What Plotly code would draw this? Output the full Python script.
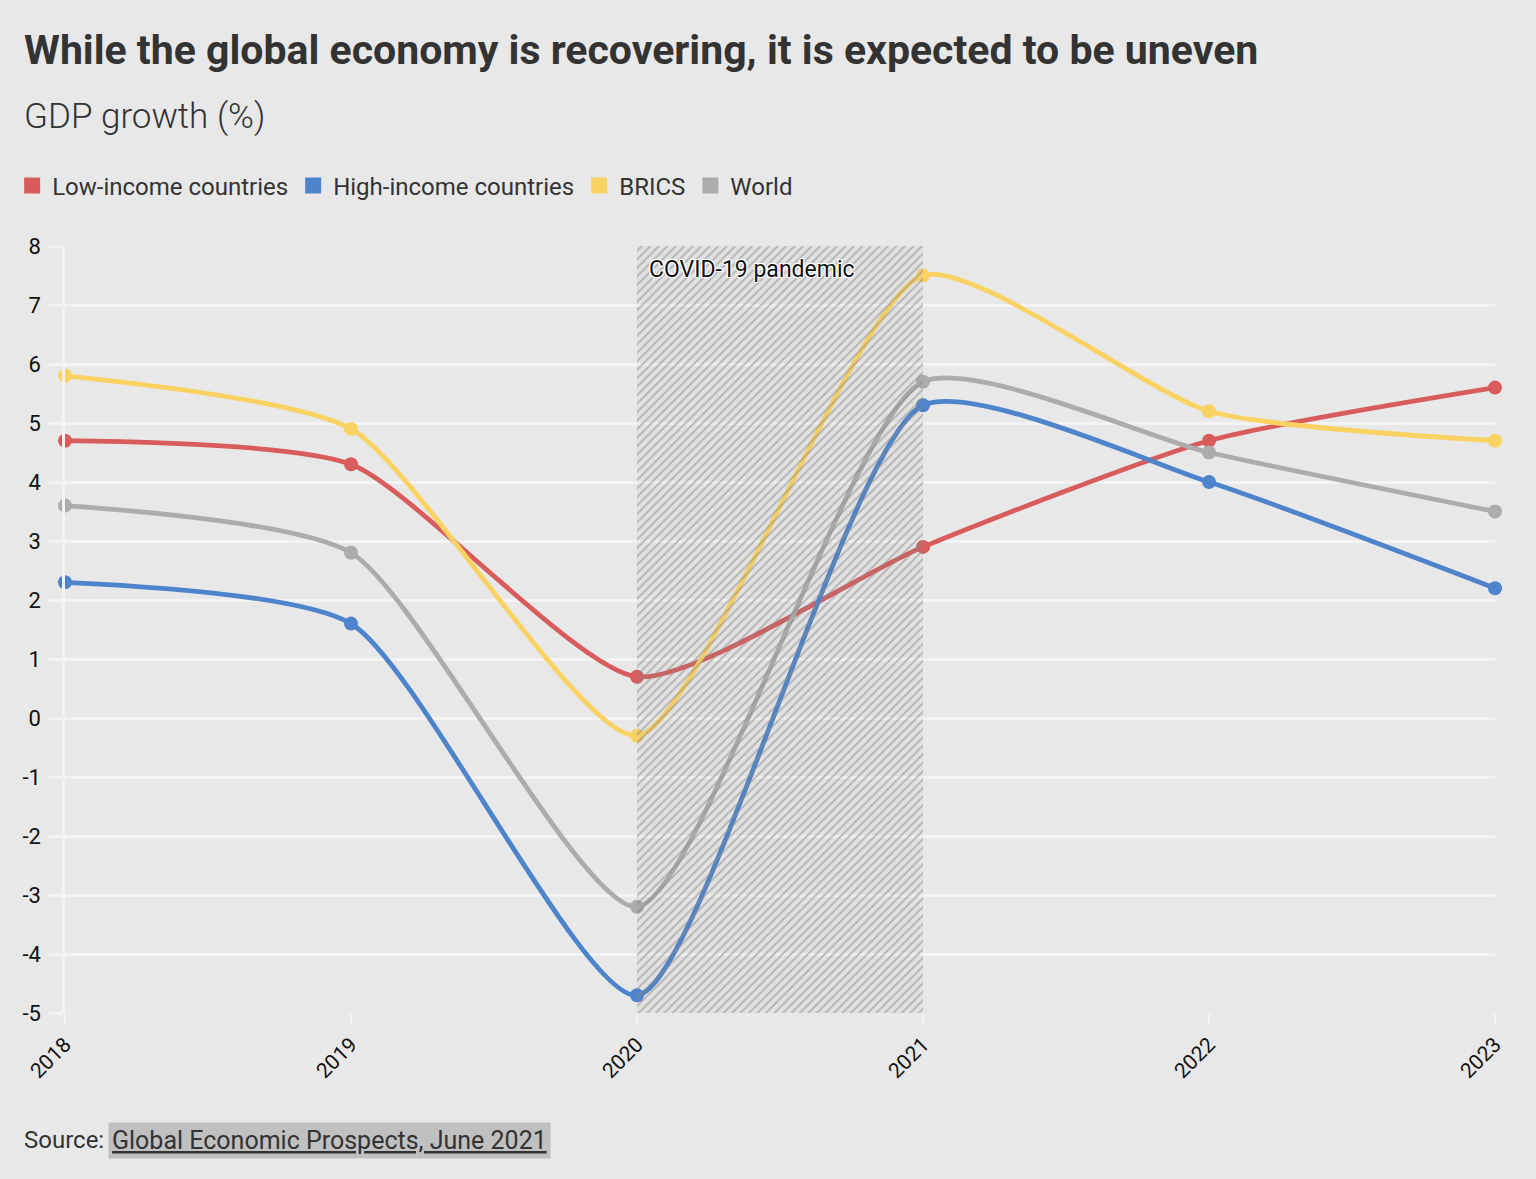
import plotly.graph_objects as go

years = [2018, 2019, 2020, 2021, 2022, 2023]
low_income = [4.7, 4.3, 0.7, 2.9, 4.7, 5.6]
high_income = [2.3, 1.6, -4.7, 5.3, 4.0, 2.2]
brics = [5.8, 4.9, -0.3, 7.5, 5.2, 4.7]
world = [3.6, 2.8, -3.2, 5.7, 4.5, 3.5]
series_names = ["Low-income countries", "High-income countries", "BRICS", "World"]
series_values = [low_income, high_income, brics, world]
colors = ["#d85c5b", "#4e84cb", "#fad262", "#acacac"]

covid_start, covid_end = 2020, 2021
covid_label = "COVID-19 pandemic"
y_min, y_max = -5, 8
y_ticks = list(range(-5, 9))

title = "While the global economy is recovering, it is expected to be uneven"
subtitle = "GDP growth (%)"
source_prefix = "Source:"
source_link = "Global Economic Prospects, June 2021"

W, H = 1536, 1179
L, R, T, B = 61, 1495, 246, 1013
PW, PH = R - L, B - T

def px(x):
    return (x - L) / PW

def py(y):
    return (B - y) / PH

FONT = "Roboto"
BG = "#e8e8e8"
GRID = "#f3f3f3"

fig = go.Figure()

for name, vals, col in zip(series_names, series_values, colors):
    fig.add_trace(go.Scatter(
        x=years, y=vals, mode="lines+markers", name=name,
        line=dict(color=col, width=4.8, shape="spline", smoothing=0.6),
        marker=dict(color=col, size=14),
        cliponaxis=False, showlegend=False,
    ))

# hatched COVID period
fig.add_trace(go.Scatter(
    x=[covid_start, covid_end, covid_end, covid_start, covid_start],
    y=[y_min, y_min, y_max, y_max, y_min],
    mode="lines", line=dict(width=0), fill="toself",
    fillcolor="rgba(120,120,120,0.06)",
    fillpattern=dict(shape="/", fgcolor="#8a8a8a", fgopacity=0.55, size=6, solidity=0.3),
    showlegend=False, hoverinfo="skip",
))

# legend entries (square swatches)
for name, col in zip(series_names, colors):
    fig.add_trace(go.Scatter(
        x=[None], y=[None], mode="markers", name=name,
        marker=dict(color=col, size=22, symbol="square"),
    ))

fig.add_annotation(
    x=covid_start, y=y_max, xref="x", yref="y", xanchor="left", yanchor="top",
    xshift=10, yshift=-8, text=covid_label, showarrow=False,
    font=dict(family=FONT, size=23, color="#111",
              shadow="-1px -1px 0 #fff, 1px -1px 0 #fff, -1px 1px 0 #fff, 1px 1px 0 #fff, 0 0 3px #fff"),
)

fig.add_annotation(
    x=px(18), y=py(50), xref="paper", yref="paper", xanchor="left", yanchor="middle",
    text="<b>" + title + "</b>", showarrow=False,
    font=dict(family=FONT, size=41, color="#333"),
)
fig.add_annotation(
    x=px(18), y=py(116), xref="paper", yref="paper", xanchor="left", yanchor="middle",
    text=subtitle, showarrow=False,
    font=dict(family=FONT, size=35, color="#333", weight=300),
)
fig.add_annotation(
    x=px(18), y=py(1140), xref="paper", yref="paper", xanchor="left", yanchor="middle",
    text=source_prefix, showarrow=False,
    font=dict(family=FONT, size=24, color="#333"),
)
fig.add_annotation(
    x=px(104), y=py(1140), xref="paper", yref="paper", xanchor="left", yanchor="middle",
    text="<u>" + source_link + "</u>", showarrow=False, bgcolor="#c0c0c0", borderpad=3,
    font=dict(family=FONT, size=25, color="#333"),
)

fig.update_layout(
    width=W, height=H,
    paper_bgcolor=BG, plot_bgcolor=BG,
    margin=dict(l=L, r=W - R, t=T, b=H - B, pad=0),
    font=dict(family=FONT, color="#111"),
    showlegend=True,
    legend=dict(orientation="h", x=px(8), y=py(186), xanchor="left", yanchor="middle",
                font=dict(family=FONT, size=24, color="#333"), bgcolor="rgba(0,0,0,0)",
                itemclick=False, traceorder="normal"),
    xaxis=dict(range=[years[0], years[-1]], tickvals=years, ticktext=[str(y) for y in years],
               tickangle=-45, showgrid=False, zeroline=False, ticks="outside", ticklen=10,
               tickwidth=2, tickcolor=GRID, tickfont=dict(family=FONT, size=21, color="#111"),
               showline=False),
    yaxis=dict(range=[y_min, y_max], tickvals=y_ticks, ticktext=[str(v) for v in y_ticks],
               showgrid=True, gridcolor=GRID,
               gridwidth=2.5, zeroline=False, ticks="outside", ticklen=13, tickwidth=2.5,
               tickcolor=GRID, tickfont=dict(family=FONT, size=22, color="#111"),
               showline=True, linecolor=GRID, linewidth=2.5, ticklabelstandoff=4),
)

fig.write_html("out.html", config={"displayModeBar": False},
               post_script="document.body.style.margin='0px';")
